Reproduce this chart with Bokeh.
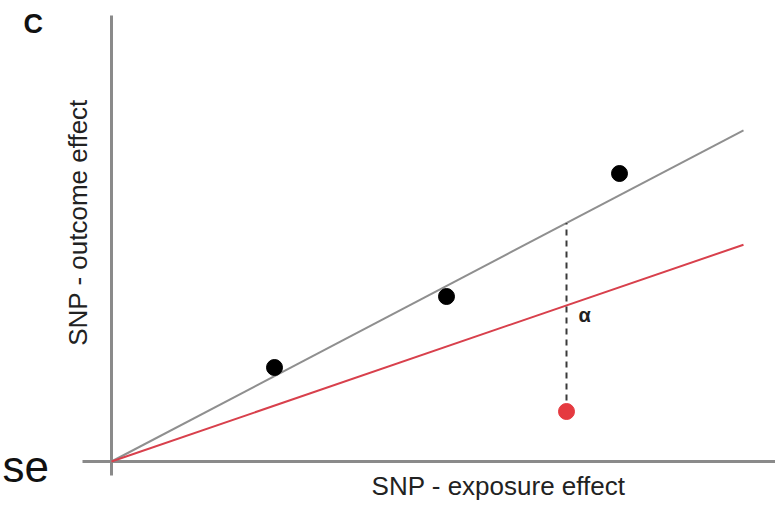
from bokeh.plotting import figure
from bokeh.models import Range1d, Label
from bokeh.embed import file_html
from bokeh.resources import INLINE
import math

# Data (exposure effect, outcome effect), arbitrary units
snp_x = [1.63, 3.35, 5.08]
snp_y = [0.94, 1.65, 2.88]
outlier_x = [4.55]
outlier_y = [0.50]
slope_ivw = 0.524      # grey regression line
slope_true = 0.343     # red line
line_end_x = 6.32
axis_x_extent = [-0.29, 6.64]
axis_y_extent = [-0.14, 4.46]

W, H = 775, 511
p = figure(width=W, height=H, x_range=Range1d(-1.11, 6.64), y_range=Range1d(-0.50, 4.61),
           x_axis_type=None, y_axis_type=None, min_border=0, toolbar_location=None,
           output_backend="svg", outline_line_color=None)
p.xgrid.visible = False
p.ygrid.visible = False

axis_col = "#8a8a8a"
p.segment(x0=[axis_x_extent[0]], y0=[0], x1=[axis_x_extent[1]], y1=[0], line_color=axis_col, line_width=3)
p.segment(x0=[0], y0=[axis_y_extent[0]], x1=[0], y1=[axis_y_extent[1]], line_color=axis_col, line_width=3)

# Lines through origin
p.line(x=[0, line_end_x], y=[0, slope_ivw * line_end_x], line_color="#8f8f8f", line_width=2)
p.line(x=[0, line_end_x], y=[0, slope_true * line_end_x], line_color="#d8404c", line_width=2)

# Dashed pleiotropy line
ox = outlier_x[0]
p.segment(x0=[ox], y0=[outlier_y[0]], x1=[ox], y1=[slope_ivw * ox],
          line_color="#3a3a3a", line_width=2, line_dash="6 5")

p.scatter(x=snp_x, y=snp_y, size=16, fill_color="black", line_color="black")
p.scatter(x=outlier_x, y=outlier_y, size=16, fill_color="#e53a40", line_color="#e53a40")

def sy(py):
    return H - py

font = "Liberation Sans"
p.add_layout(Label(x=23, y=sy(38), x_units="screen", y_units="screen", text="C",
                   text_font=font, text_font_size="27px", text_font_style="bold", text_color="#111111"))
p.add_layout(Label(x=2, y=sy(490), x_units="screen", y_units="screen", text="se",
                   text_font=font, text_font_size="44px", text_color="#111111"))
p.add_layout(Label(x=498, y=sy(500), x_units="screen", y_units="screen", text="SNP - exposure effect",
                   text_font=font, text_font_size="26px", text_color="#222222", text_align="center"))
p.add_layout(Label(x=92, y=sy(222), x_units="screen", y_units="screen", text="SNP - outcome effect",
                   text_font=font, text_font_size="26px", text_color="#222222", text_align="center",
                   angle=math.pi / 2))
p.add_layout(Label(x=578, y=sy(325), x_units="screen", y_units="screen", text="α",
                   text_font=font, text_font_size="20px", text_font_style="bold", text_color="#222222"))

open("out.html", "w").write(file_html(p, INLINE))
